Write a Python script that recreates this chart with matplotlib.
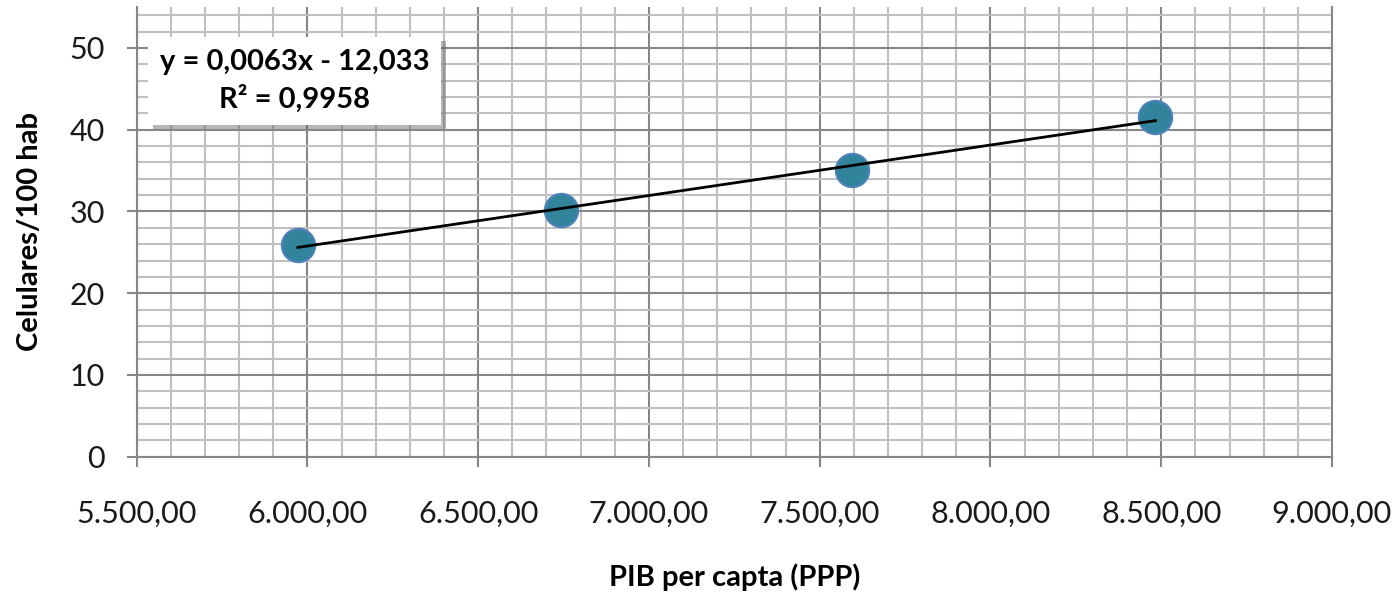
import numpy as np
import matplotlib
matplotlib.use("Agg")
import matplotlib.pyplot as plt
import matplotlib.patheffects as pe
from matplotlib.ticker import MultipleLocator, FuncFormatter

# PIB per capta (PPP) vs celulares por 100 hab
pib = [5972, 6742, 7595, 8483]
celulares = [25.9, 30.2, 35.1, 41.5]

x_ticks = [5500, 6000, 6500, 7000, 7500, 8000, 8500, 9000]
y_ticks = [0, 10, 20, 30, 40, 50]

plt.rcParams['font.family'] = ['Lato', 'DejaVu Sans']

fig = plt.figure(figsize=(14, 5.92), dpi=100)
ax = fig.add_axes([0.0976, 0.2285, 0.8538, 0.7595])

major_c = '#878787'
minor_c = '#c0c0c0'

ax.set_xlim(5500, 9000)
ax.set_ylim(0, 55)
ax.set_xticks(x_ticks)
ax.set_yticks(y_ticks)
ax.xaxis.set_minor_locator(MultipleLocator(100))
ax.yaxis.set_minor_locator(MultipleLocator(2))

ax.grid(which='minor', color=minor_c, lw=1.5, zorder=0)
ax.grid(which='major', color=major_c, lw=1.5, zorder=0)
ax.set_axisbelow(True)

def fmt_br(v, pos):
    s = f"{v:,.2f}"
    return s.replace(',', 'X').replace('.', ',').replace('X', '.')

ax.xaxis.set_major_formatter(FuncFormatter(fmt_br))

for side in ['left', 'bottom', 'right']:
    ax.spines[side].set_color(major_c)
    ax.spines[side].set_linewidth(1.5)
ax.spines['top'].set_visible(False)

ax.tick_params(which='major', length=7, width=1.5, color=major_c,
               labelsize=22, labelcolor='#1a1a1a')
ax.tick_params(axis='x', pad=24)
ax.tick_params(axis='y', pad=16)
ax.tick_params(which='minor', length=0)

# trend line
coef = np.polyfit(pib, celulares, 1)
xs = np.array([min(pib), max(pib)])
ax.plot(xs, np.polyval(coef, xs), color='black', lw=2, zorder=3)

ax.plot(pib, celulares, 'o', ms=24, mfc='#31849b', mec='#4f81bd', mew=1.5,
        zorder=2, clip_on=False)

txt = ax.text(0.1324, 0.836, "y = 0,0063x - 12,033\nR² = 0,9958",
              transform=ax.transAxes, ha='center', va='center',
              fontsize=21, fontweight='bold', linespacing=1.45,
              bbox=dict(boxstyle='square,pad=0.4', fc='white', ec='none'),
              zorder=5)
txt.get_bbox_patch().set_path_effects([
    pe.SimplePatchShadow(offset=(3, -3), shadow_rgbFace='#606060', alpha=0.45),
    pe.Normal()])

ax.set_xlabel('PIB per capta (PPP)', fontsize=21, fontweight='bold', labelpad=26)
ax.set_ylabel('Celulares/100 hab', fontsize=21, fontweight='bold', labelpad=19)

fig.savefig('out.png', dpi=100)
